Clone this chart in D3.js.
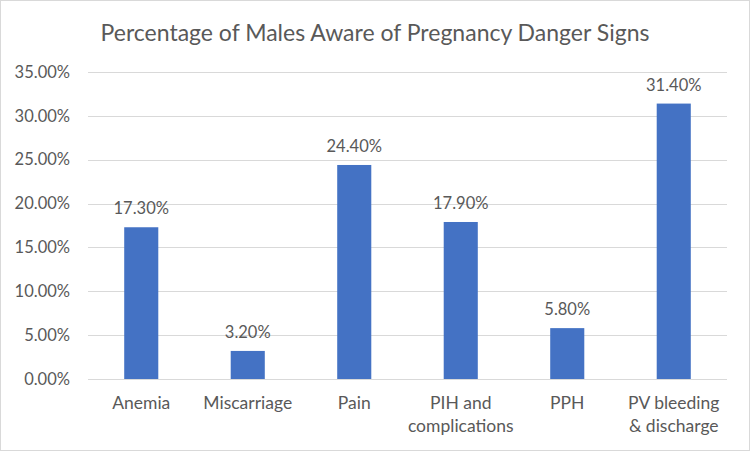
<!DOCTYPE html>
<html>
<head>
<meta charset="utf-8">
<script src="https://cdn.jsdelivr.net/npm/d3@7"></script>
<style>
  body { margin: 0; background: #fff; }
  svg text { font-family: Lato, "Open Sans", sans-serif; fill: #595959; }
</style>
</head>
<body>
<div id="chart"></div>
<script>
// data
var categories = [['Anemia'], ['Miscarriage'], ['Pain'], ['PIH and', 'complications'], ['PPH'], ['PV bleeding', '& discharge']];
var values = [17.3, 3.2, 24.4, 17.9, 5.8, 31.4];
var yTicks = [0, 5, 10, 15, 20, 25, 30, 35];
var title = 'Percentage of Males Aware of Pregnancy Danger Signs';

var width = 750, height = 451;
var margin = {top: 72, right: 23, bottom: 72, left: 88};

var svg = d3.select('#chart').append('svg')
  .attr('width', width)
  .attr('height', height);

// outer frame
svg.append('rect')
  .attr('x', 0.5).attr('y', 0.5)
  .attr('width', width - 1).attr('height', height - 1)
  .style('fill', '#fff').style('stroke', '#d9d9d9');

svg.append('text')
  .attr('x', 375).attr('y', 41)
  .attr('text-anchor', 'middle')
  .style('font-size', '23px')
  .text(title);

var x = d3.scaleBand()
  .domain(d3.range(categories.length))
  .range([margin.left, width - margin.right])
  .paddingInner(0.68).paddingOuter(0.34);

var y = d3.scaleLinear()
  .domain([0, 35])
  .range([height - margin.bottom, margin.top]);

var g = svg.append('g');

// gridlines
g.selectAll('line.grid').data(yTicks).enter().append('line')
  .attr('class', 'grid')
  .attr('x1', margin.left).attr('x2', width - margin.right)
  .attr('y1', function(d) { return Math.round(y(d)) + 0.5; })
  .attr('y2', function(d) { return Math.round(y(d)) + 0.5; })
  .style('stroke', '#d9d9d9').style('stroke-width', 1);

// y axis labels
var yAxis = d3.axisLeft(y).tickValues(yTicks).tickSize(0).tickPadding(0)
  .tickFormat(function(d) { return d3.format('.2f')(d) + '%'; });
var ya = svg.append('g')
  .attr('transform', 'translate(70,0)')
  .call(yAxis);
ya.select('.domain').remove();
ya.selectAll('text').style('font-size', '16.5px').style('fill', '#595959')
  .style('font-family', 'Lato, sans-serif');

// bars
g.selectAll('rect.bar').data(values).enter().append('rect')
  .attr('class', 'bar')
  .attr('x', function(d, i) { return x(i); })
  .attr('width', x.bandwidth())
  .attr('y', function(d) { return y(d); })
  .attr('height', function(d) { return y(0) - y(d); })
  .style('fill', '#4472c4');

// value labels
g.selectAll('text.val').data(values).enter().append('text')
  .attr('class', 'val')
  .attr('x', function(d, i) { return x(i) + x.bandwidth() / 2; })
  .attr('y', function(d) { return y(d) - 13; })
  .attr('text-anchor', 'middle')
  .style('font-size', '16.5px')
  .text(function(d) { return d3.format('.2f')(d) + '%'; });

// category labels
var cat = g.selectAll('text.cat').data(categories).enter().append('text')
  .attr('class', 'cat')
  .attr('text-anchor', 'middle')
  .attr('x', function(d, i) { return x(i) + x.bandwidth() / 2; })
  .attr('y', 409)
  .style('font-size', '17.5px');
cat.selectAll('tspan').data(function(d) { return d; }).enter().append('tspan')
  .attr('x', function() { return d3.select(this.parentNode).attr('x'); })
  .attr('dy', function(d, i) { return i === 0 ? 0 : 23; })
  .text(function(d) { return d; });

// baseline
g.append('line')
  .attr('x1', margin.left).attr('x2', width - margin.right)
  .attr('y1', Math.round(y(0)) + 0.5).attr('y2', Math.round(y(0)) + 0.5)
  .style('stroke', '#d9d9d9');
</script>
</body>
</html>
